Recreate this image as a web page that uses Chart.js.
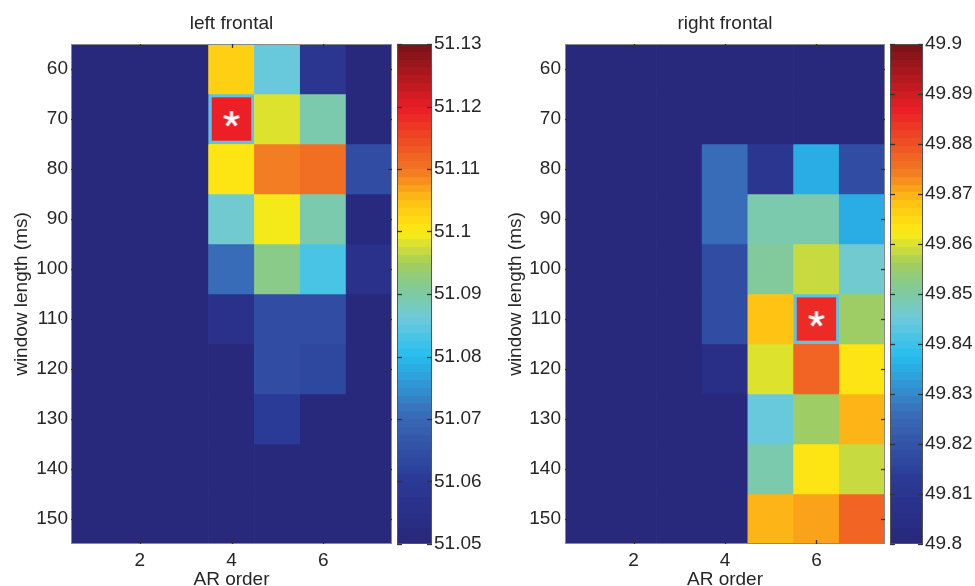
<!DOCTYPE html>
<html>
<head>
<meta charset="utf-8">
<script src="https://cdn.jsdelivr.net/npm/chart.js@4.4.0/dist/chart.umd.min.js"></script>
<style>
  html, body { margin: 0; padding: 0; background: #fff; }
  #wrap { position: relative; width: 975px; height: 586px; overflow: hidden; }
  canvas { position: absolute; top: 0; }
</style>
</head>
<body>
<div id="wrap">
  <canvas id="leftMap" width="395" height="586" style="left:0"></canvas>
  <canvas id="leftBar" width="93" height="586" style="left:397px"></canvas>
  <canvas id="rightMap" width="398" height="586" style="left:490px"></canvas>
  <canvas id="rightBar" width="85" height="586" style="left:890px"></canvas>
</div>
<script>
// axes
const arOrder = ['1', '2', '3', '4', '5', '6', '7'];
const windowLength = [60, 70, 80, 90, 100, 110, 120, 130, 140, 150];

// left frontal, one row per window length, columns = AR order 1..7
const leftFrontal = [
    [51.05, 51.05, 51.05, 51.103, 51.085, 51.058, 51.051],
    [51.05, 51.05, 51.05, 51.12, 51.098, 51.089, 51.051],
    [51.05, 51.05, 51.05, 51.1, 51.11, 51.111, 51.065],
    [51.05, 51.05, 51.05, 51.087, 51.099, 51.089, 51.052],
    [51.05, 51.05, 51.05, 51.071, 51.092, 51.083, 51.056],
    [51.05, 51.05, 51.05, 51.055, 51.065, 51.064, 51.051],
    [51.05, 51.05, 51.05, 51.05, 51.064, 51.063, 51.05],
    [51.05, 51.05, 51.05, 51.05, 51.061, 51.05, 51.05],
    [51.05, 51.05, 51.05, 51.05, 51.05, 51.05, 51.05],
    [51.05, 51.05, 51.05, 51.05, 51.05, 51.05, 51.05]
];
const leftRange = [51.05, 51.13];
const leftTicks = [51.05, 51.06, 51.07, 51.08, 51.09, 51.1, 51.11, 51.12, 51.13];
const leftBest = { x: '4', y: 70 };

// right frontal
const rightFrontal = [
    [49.8, 49.8, 49.8, 49.8, 49.8, 49.8, 49.8],
    [49.8, 49.8, 49.8, 49.8, 49.8, 49.8, 49.8],
    [49.8, 49.8, 49.8, 49.826, 49.81, 49.835, 49.818],
    [49.8, 49.8, 49.8, 49.826, 49.849, 49.849, 49.835],
    [49.8, 49.8, 49.8, 49.818, 49.851, 49.858, 49.846],
    [49.8, 49.8, 49.8, 49.818, 49.868, 49.885, 49.855],
    [49.8, 49.8, 49.8, 49.805, 49.86, 49.877, 49.864],
    [49.8, 49.8, 49.8, 49.8, 49.845, 49.855, 49.869],
    [49.8, 49.8, 49.8, 49.8, 49.849, 49.863, 49.859],
    [49.8, 49.8, 49.8, 49.8, 49.869, 49.871, 49.877]
];
const rightRange = [49.8, 49.9];
const rightTicks = [49.8, 49.81, 49.82, 49.83, 49.84, 49.85, 49.86, 49.87, 49.88, 49.89, 49.9];
const rightBest = { x: '6', y: 110 };

Chart.defaults.font.family = '"Liberation Sans", Arial, sans-serif';
Chart.defaults.font.size = 19;
Chart.defaults.color = '#262626';

// jet colormap as it looks in the printed figure (64 levels)
const jetStops = [
    [0, 40, 40, 125], [0.125, 42, 58, 150], [0.25, 58, 105, 182], [0.375, 38, 190, 240],
    [0.45, 110, 202, 218], [0.5, 125, 202, 165], [0.56, 160, 205, 95], [0.625, 252, 236, 18],
    [0.69, 255, 190, 20], [0.75, 242, 120, 35], [0.875, 236, 30, 38], [1, 125, 20, 25]
];
function jetAt(t) {
    for (let i = 1; i < jetStops.length; i++) {
        const a = jetStops[i - 1], b = jetStops[i];
        if (t <= b[0]) {
            const f = (t - a[0]) / (b[0] - a[0]);
            const c = [1, 2, 3].map(k => Math.round(a[k] + (b[k] - a[k]) * f));
            return `rgb(${c[0]},${c[1]},${c[2]})`;
        }
    }
    return 'rgb(125,20,25)';
}
function levelColor(v, range) {
    let idx = Math.floor((v - range[0]) / (range[1] - range[0]) * 64);
    idx = Math.max(0, Math.min(63, idx));
    return jetAt(idx / 63);
}

function asteriskImage() {
    const c = document.createElement('canvas');
    c.width = c.height = 20;
    const g = c.getContext('2d');
    g.strokeStyle = '#fff';
    g.lineWidth = 3.2;
    g.translate(10, 10);
    for (let k = 0; k < 5; k++) {
        const a = -Math.PI / 2 + k * 2 * Math.PI / 5;
        g.beginPath();
        g.moveTo(0, 0);
        g.lineTo(8 * Math.cos(a), 8 * Math.sin(a));
        g.stroke();
    }
    return c;
}

// box around the axes and small inward tick marks, matlab style
const framePlugin = {
    id: 'frame',
    afterDatasetsDraw(chart, args, opts) {
        const { ctx, chartArea: a, scales } = chart;
        const len = opts.tickLength || 4;
        ctx.save();
        ctx.lineWidth = 1;
        ctx.strokeStyle = opts.color || '#777';
        ctx.strokeRect(a.left + 0.5, a.top + 0.5, a.right - a.left - 1, a.bottom - a.top - 1);
        ctx.strokeStyle = '#333';
        ctx.lineWidth = 1.3;
        const seg = (x1, y1, x2, y2) => { ctx.beginPath(); ctx.moveTo(x1, y1); ctx.lineTo(x2, y2); ctx.stroke(); };
        scales.y.ticks.forEach(t => {
            const p = Math.round(scales.y.getPixelForValue(t.value)) + 0.5;
            seg(a.left, p, a.left + len, p);
            seg(a.right - len, p, a.right, p);
        });
        if (scales.x.options.display) {
            scales.x.ticks.forEach((t, i) => {
                if (!t.label) return;
                const p = Math.round(scales.x.getPixelForTick(i)) + 0.5;
                seg(p, a.top, p, a.top + len);
                seg(p, a.bottom - len, p, a.bottom);
            });
        }
        ctx.restore();
    }
};

function makeMap(id, title, values, range, best, yWidth, yTitlePad, tickPad) {
    const datasets = windowLength.map((w, r) => ({
        data: arOrder.map(() => [w - 5, w + 5]),
        backgroundColor: values[r].map(v => levelColor(v, range)),
        borderColor: '#5cc3e4',
        borderWidth: arOrder.map(c => (c === best.x && w === best.y) ? 3.5 : 0),
        borderSkipped: false,
        grouped: false,
        barPercentage: 1,
        categoryPercentage: 1,
        order: 1
    }));
    datasets.push({
        type: 'line',
        data: [best],
        showLine: false,
        pointStyle: asteriskImage(),
        pointRadius: 10,
        order: 0
    });

    return new Chart(document.getElementById(id), {
        type: 'bar',
        data: { labels: arOrder, datasets: datasets },
        options: {
            responsive: false,
            animation: false,
            layout: { autoPadding: false, padding: { right: 3 } },
            plugins: {
                legend: { display: false },
                tooltip: { enabled: false },
                title: {
                    display: true,
                    text: title,
                    fullSize: false,
                    font: { size: 19, weight: 'normal' },
                    padding: { top: 12, bottom: 9.2 }
                },
                frame: { color: '#8a8a8a' }
            },
            scales: {
                x: {
                    type: 'category',
                    grid: { display: false, drawTicks: false },
                    border: { display: false },
                    ticks: {
                        autoSkip: false,
                        maxRotation: 0,
                        padding: 5,
                        callback: function (v) {
                            const l = this.getLabelForValue(v);
                            return Number(l) % 2 === 0 ? l : '';
                        }
                    },
                    title: { display: true, text: 'AR order', padding: { top: 0, bottom: -3 }, font: { size: 19, lineHeight: 1 } },
                    afterFit: s => { s.height = 42; s.paddingLeft = 0; s.paddingRight = 0; }
                },
                y: {
                    type: 'linear',
                    reverse: true,
                    min: 55,
                    max: 155,
                    grid: { display: false, drawTicks: false },
                    border: { display: false },
                    ticks: { padding: tickPad },
                    afterBuildTicks: s => { s.ticks = windowLength.map(v => ({ value: v })); },
                    title: { display: true, text: 'window length (ms)', padding: { top: yTitlePad, bottom: 0 } },
                    afterFit: s => { s.width = yWidth; s.paddingTop = 0; s.paddingBottom = 0; }
                }
            }
        },
        plugins: [framePlugin]
    });
}

function makeColorbar(id, range, ticks, axisWidth) {
    return new Chart(document.getElementById(id), {
        type: 'bar',
        data: {
            labels: [''],
            datasets: [{
                data: [range],
                barPercentage: 1,
                categoryPercentage: 1,
                backgroundColor: ctx => {
                    const area = ctx.chart.chartArea;
                    if (!area) return null;
                    const g = ctx.chart.ctx.createLinearGradient(0, area.bottom, 0, area.top);
                    for (let i = 0; i < 64; i++) {
                        const col = jetAt(i / 63);
                        g.addColorStop(i / 64, col);
                        g.addColorStop((i + 1) / 64, col);
                    }
                    return g;
                }
            }]
        },
        options: {
            responsive: false,
            animation: false,
            layout: { autoPadding: false, padding: { top: 44, bottom: 42, left: 0, right: 0 } },
            plugins: {
                legend: { display: false },
                tooltip: { enabled: false },
                frame: { color: '#555', tickLength: 5 }
            },
            scales: {
                x: { display: false },
                y: {
                    position: 'right',
                    min: range[0],
                    max: range[1],
                    grid: { display: false, drawTicks: false },
                    border: { display: false },
                    ticks: { padding: 2, callback: v => String(+v.toFixed(2)) },
                    afterBuildTicks: s => { s.ticks = ticks.map(v => ({ value: v })); },
                    afterFit: s => { s.width = axisWidth; }
                }
            }
        },
        plugins: [framePlugin]
    });
}

makeMap('leftMap', 'left frontal', leftFrontal, leftRange, leftBest, 71, 10, 3);
makeColorbar('leftBar', leftRange, leftTicks, 58);
makeMap('rightMap', 'right frontal', rightFrontal, rightRange, rightBest, 75, 14, 4);
makeColorbar('rightBar', rightRange, rightTicks, 52);
</script>
</body>
</html>
